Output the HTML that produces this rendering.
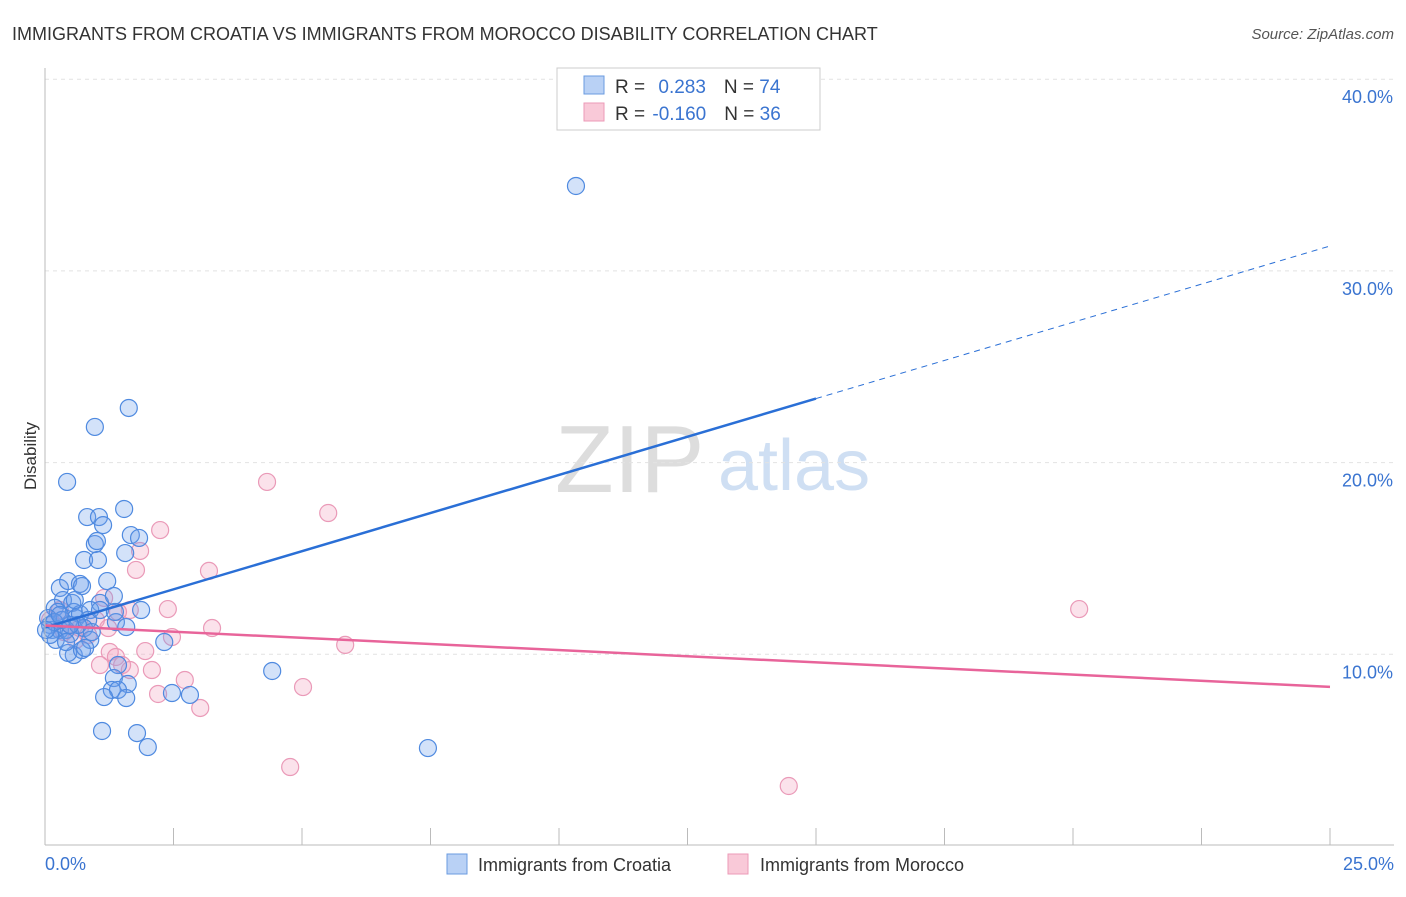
<!DOCTYPE html>
<html><head><meta charset="utf-8"><style>
body{margin:0;background:#fff;font-family:"Liberation Sans",sans-serif}
svg text{font-family:"Liberation Sans",sans-serif}
</style></head><body>
<svg id="c" width="1406" height="892">
<text x="12" y="40" font-size="18" fill="#333">IMMIGRANTS FROM CROATIA VS IMMIGRANTS FROM MOROCCO DISABILITY CORRELATION CHART</text>
<text x="1394" y="39" font-size="15" fill="#555" font-style="italic" text-anchor="end">Source: ZipAtlas.com</text>
<text x="36" y="456" font-size="17" fill="#333" transform="rotate(-90 36 456)" text-anchor="middle">Disability</text>
<text x="555" y="492" font-size="96" fill="#ddd" font-family="Liberation Serif">ZIP</text>
<text x="718" y="490" font-size="72" fill="#cfdff3">atlas</text>
<g id="grid"></g><g id="pts"></g><g id="lines"></g>
<line x1="45" y1="845" x2="1394" y2="845" stroke="#bbb"/>
<line x1="45" y1="68" x2="45" y2="845" stroke="#bbb"/>
<text x="45" y="870" font-size="18" fill="#3a74d0">0.0%</text>
<text x="1394" y="870" font-size="18" fill="#3a74d0" text-anchor="end">25.0%</text>
<g>
<rect x="557" y="68" width="263" height="62" fill="#fff" stroke="#ccc"/>
<rect x="584" y="76" width="20" height="18" fill="#b9d1f5" stroke="#6a9be0"/>
<rect x="584" y="103" width="20" height="18" fill="#f9c9d8" stroke="#ec9ab7"/>
<text x="615" y="93" font-size="19" fill="#333">R = <tspan fill="#3a74d0" dx="8">0.283</tspan><tspan dx="18" fill="#333">N = </tspan><tspan fill="#3a74d0">74</tspan></text>
<text x="615" y="120" font-size="19" fill="#333">R = <tspan fill="#3a74d0" dx="2">-0.160</tspan><tspan dx="18" fill="#333">N = </tspan><tspan fill="#3a74d0">36</tspan></text>
</g>
<g><rect x="447" y="854" width="20" height="20" fill="#b9d1f5" stroke="#6a9be0"/><text x="478" y="871" font-size="18" fill="#333">Immigrants from Croatia</text></g>
<g><rect x="728" y="854" width="20" height="20" fill="#f9c9d8" stroke="#ec9ab7"/><text x="760" y="871" font-size="18" fill="#333">Immigrants from Morocco</text></g>
</svg>
<script>
const yTicks=[10,20,30,40];
const blueXY=[[576,186],[129,408],[95,427],[67,482],[87,517],[99,517],[124,509],[103,525],[95,544],[97,541],[131,535],[139,538],[125,553],[84,560],[98,560],[60,588],[68,581],[80,584],[82,586],[107,581],[63,600],[72,603],[100,603],[114,596],[141,610],[55,608],[58,612],[74,612],[76,618],[80,614],[90,610],[88,620],[116,622],[126,627],[84,628],[50,625],[52,630],[60,630],[66,630],[56,640],[70,634],[90,640],[74,655],[68,653],[82,650],[164,642],[118,665],[114,678],[128,684],[112,690],[118,690],[104,697],[126,698],[172,693],[190,695],[272,671],[102,731],[137,733],[148,747],[428,748],[50,635],[62,620],[78,625],[48,618],[54,622],[70,625],[85,648],[92,632],[60,615],[46,630],[66,642],[100,610],[115,612],[75,600]];
const pinkXY=[[267,482],[328,513],[160,530],[140,551],[136,570],[209,571],[104,598],[130,610],[168,609],[118,612],[96,620],[212,628],[172,637],[345,645],[1079,609],[60,610],[70,625],[80,628],[76,640],[108,628],[145,651],[110,652],[100,665],[116,657],[122,665],[152,670],[185,680],[158,694],[200,708],[303,687],[290,767],[789,786],[50,620],[88,635],[64,632],[130,670]];
// convert reading to data values (percent)
const blueX=blueXY.map(p=>+((p[0]-45)/1285*25).toFixed(2));
const blueY=blueXY.map(p=>+((846-p[1])/19.17).toFixed(2));
const pinkX=pinkXY.map(p=>+((p[0]-45)/1285*25).toFixed(2));
const pinkY=pinkXY.map(p=>+((846-p[1])/19.17).toFixed(2));
const blueTrend=[11.4,31.3];
const pinkTrend=[11.5,8.3];
const sx=v=>45+v/25*1285, sy=v=>846-v*19.17;
const NS='http://www.w3.org/2000/svg';
function mk(t,a,p){const e=document.createElementNS(NS,t);for(const k in a)e.setAttribute(k,a[k]);p.appendChild(e);return e;}
const grid=document.getElementById('grid');
yTicks.forEach(t=>{
 const l=mk('line',{x1:45,x2:1394,y1:sy(t),y2:sy(t),stroke:'#e2e2e2','stroke-dasharray':'4,4'},grid);
 
 
 const tx=mk('text',{x:1393,y:sy(t)+24,'font-size':18,fill:'#3a74d0','text-anchor':'end'},grid);
 tx.textContent=t.toFixed(1)+'%';
 
 
});
for(let i=1;i<=10;i++){const l=mk('line',{x1:sx(i*2.5),x2:sx(i*2.5),y1:828,y2:845,stroke:'#bbb'},grid);
 
 }
const pts=document.getElementById('pts');
pinkX.forEach((x,i)=>{const c=mk('circle',{cx:sx(x),cy:sy(pinkY[i]),r:8.5,fill:'rgba(242,160,190,0.3)',stroke:'#ea9ab8','stroke-width':1.2},pts);
 
 });
blueX.forEach((x,i)=>{const c=mk('circle',{cx:sx(x),cy:sy(blueY[i]),r:8.5,fill:'rgba(110,160,235,0.3)',stroke:'#4f8ae0','stroke-width':1.2},pts);
 
 });
const ln=document.getElementById('lines');
const bAt=x=>blueTrend[0]+(blueTrend[1]-blueTrend[0])*x/25;
let l1=mk('line',{x1:sx(0),y1:sy(bAt(0)),x2:sx(15),y2:sy(bAt(15)),stroke:'#2a6fd6','stroke-width':2.5},ln);


let l2=mk('line',{x1:sx(15),y1:sy(bAt(15)),x2:sx(25),y2:sy(bAt(25)),stroke:'#2a6fd6','stroke-width':1,'stroke-dasharray':'6,5'},ln);


let l3=mk('line',{x1:sx(0),y1:sy(pinkTrend[0]),x2:sx(25),y2:sy(pinkTrend[1]),stroke:'#e8649a','stroke-width':2.5},ln);


</script>
</body></html>
